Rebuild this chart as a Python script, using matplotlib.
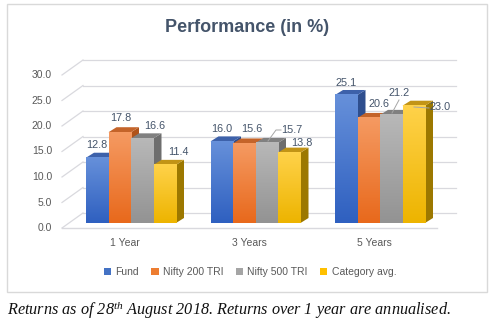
import numpy as np
import matplotlib
matplotlib.use('Agg')
import matplotlib.pyplot as plt
from matplotlib.patches import Patch, Rectangle
from matplotlib.colors import LinearSegmentedColormap

plt.rcParams['font.family'] = ['Liberation Sans', 'DejaVu Sans']
plt.rcParams['mathtext.fontset'] = 'custom'
plt.rcParams['mathtext.rm'] = 'Liberation Serif:italic'
plt.rcParams['mathtext.it'] = 'Liberation Serif:italic'

# data
periods = ['1 Year', '3 Years', '5 Years']
series = ['Fund', 'Nifty 200 TRI', 'Nifty 500 TRI', 'Category avg.']
fund = [12.8, 16.0, 25.1]
nifty200 = [17.8, 15.6, 20.6]
nifty500 = [16.6, 15.7, 21.2]
category = [11.4, 13.8, 23.0]
values = [fund, nifty200, nifty500, category]
y_ticks = [0, 5, 10, 15, 20, 25, 30]

# styles: (top of front face, bottom of front face, side, top)
colors = [('#6690DA', '#2F60C0', '#2E4E8E', '#3D61AA'),
          ('#F59A62', '#E8691C', '#B0531A', '#C4642A'),
          ('#B8B8B8', '#939393', '#6E6E6E', '#808080'),
          ('#FFD24A', '#EDB400', '#9C7800', '#C29416')]
legend_colors = ['#4472C4', '#ED7D31', '#A5A5A5', '#FFC000']
# label offsets in pixels (dx, dy above the bar's front top)
lab_off = [[(0, 13), (0, 12), (0, 12)],
           [(1, 14), (8, 14), (10, 14)],
           [(12, 12), (25, 13), (8, 22)],
           [(14, 13), (13, 10), (26, -1)]]
txt = '#44546A'

fig = plt.figure(figsize=(4.92, 3.26), dpi=100)
ax = fig.add_axes([0, 0, 1, 1])
# pixel -> data mapping: x_px = 131 + 124.5*x ; y_px = 223 - 5.1*v
sx, sy = 124.5, 5.1
ax.axis('off')

def px(dx, dy):
    return dx / sx, -dy / sy

# floor / walls
fl_dx, fl_dy = px(-7, 5)
bk_dx, bk_dy = px(14, -10)
x_left, x_right_front, x_right_back = (62 - 131) / sx, (437 - 131) / sx, (456 - 131) / sx
grid_c = '#D9D9DE'
for v in y_ticks:
    ax.plot([x_left, x_left + (bk_dx - fl_dx)], [v + fl_dy, v + bk_dy], color=grid_c, lw=0.9, zorder=1)
    ax.plot([x_left + (bk_dx - fl_dx), x_right_back], [v + bk_dy, v + bk_dy], color=grid_c, lw=0.9, zorder=1)
    ax.text(x_left - 10 / sx, v + fl_dy, '%.1f' % v, ha='right', va='center', fontsize=7.5, color='#595959')
ax.plot([x_left, x_right_front], [fl_dy, fl_dy], color=grid_c, lw=1.0, zorder=1)

w = 22.5 / sx
sdx, sdy = px(8, -5)
x = np.arange(len(periods))
grad = np.linspace(0, 1, 64).reshape(-1, 1)
for i, vals in enumerate(values):
    cmap = LinearSegmentedColormap.from_list('g%d' % i, [colors[i][1], colors[i][0]])
    for g, v in enumerate(vals):
        x0 = x[g] + (i - 2) * w
        z = 3 + g * 10 + i * 2
        # side
        ax.fill([x0 + w, x0 + w + sdx, x0 + w + sdx, x0 + w],
                [0, sdy, v + sdy, v], color=colors[i][2], zorder=z, lw=0)
        # top
        ax.fill([x0, x0 + w, x0 + w + sdx, x0 + sdx],
                [v, v, v + sdy, v + sdy], color=colors[i][3], zorder=z, lw=0)
        # front with gradient
        ax.imshow(grad, extent=(x0, x0 + w, 0, v), origin='lower', cmap=cmap,
                  aspect='auto', zorder=z + 1, interpolation='bilinear')
        ox, oy = px(*lab_off[i][g])
        ax.text(x0 + w / 2 + ox, v - oy, '%.1f' % v, ha='center', va='center',
                fontsize=7.8, color=txt, zorder=50)

# leader lines
lc = '#A6A6A6'
for pts in [[(281, 130), (276, 130), (268, 141)],
            [(399, 100), (392, 113)],
            [(429, 108), (414, 107)]]:
    ax.plot([(p[0] - 131) / sx for p in pts], [(223 - p[1]) / sy for p in pts],
            color=lc, lw=0.7, zorder=40)

for g, name in enumerate(periods):
    ax.text(x[g] - 6 / sx, -20 / sy, name, ha='center', va='center', fontsize=7.5, color='#595959')

ax.set_xlim(-131 / sx, (492 - 131) / sx)
ax.set_ylim((223 - 326) / sy, 223 / sy)

# chart border
fig.patches.append(Rectangle((7 / 492, 1 - 292 / 326), 480 / 492, 288 / 326,
                             transform=fig.transFigure, fill=False, edgecolor='#D9D9D9', lw=1))

fig.text(247 / 492, 1 - 27 / 326, 'Performance (in %)', ha='center', va='center',
         fontsize=13, fontweight='bold', color=txt)

handles = [Patch(facecolor=c, edgecolor='none', label=s) for c, s in zip(legend_colors, series)]
fig.legend(handles=handles, loc='center', bbox_to_anchor=(250 / 492, 1 - 272 / 326), ncol=4,
           frameon=False, fontsize=7.5, handlelength=0.7, handleheight=0.7, handletextpad=0.4,
           columnspacing=1.2, labelcolor='#595959')

fig.text(7 / 492, 1 - 310 / 326, r'Returns as of 28$^{th}$ August 2018. Returns over 1 year are annualised.',
         ha='left', va='center', fontsize=11.7, style='italic', family='Liberation Serif', color='#111111')

fig.savefig('out.png', dpi=100, facecolor='white')
